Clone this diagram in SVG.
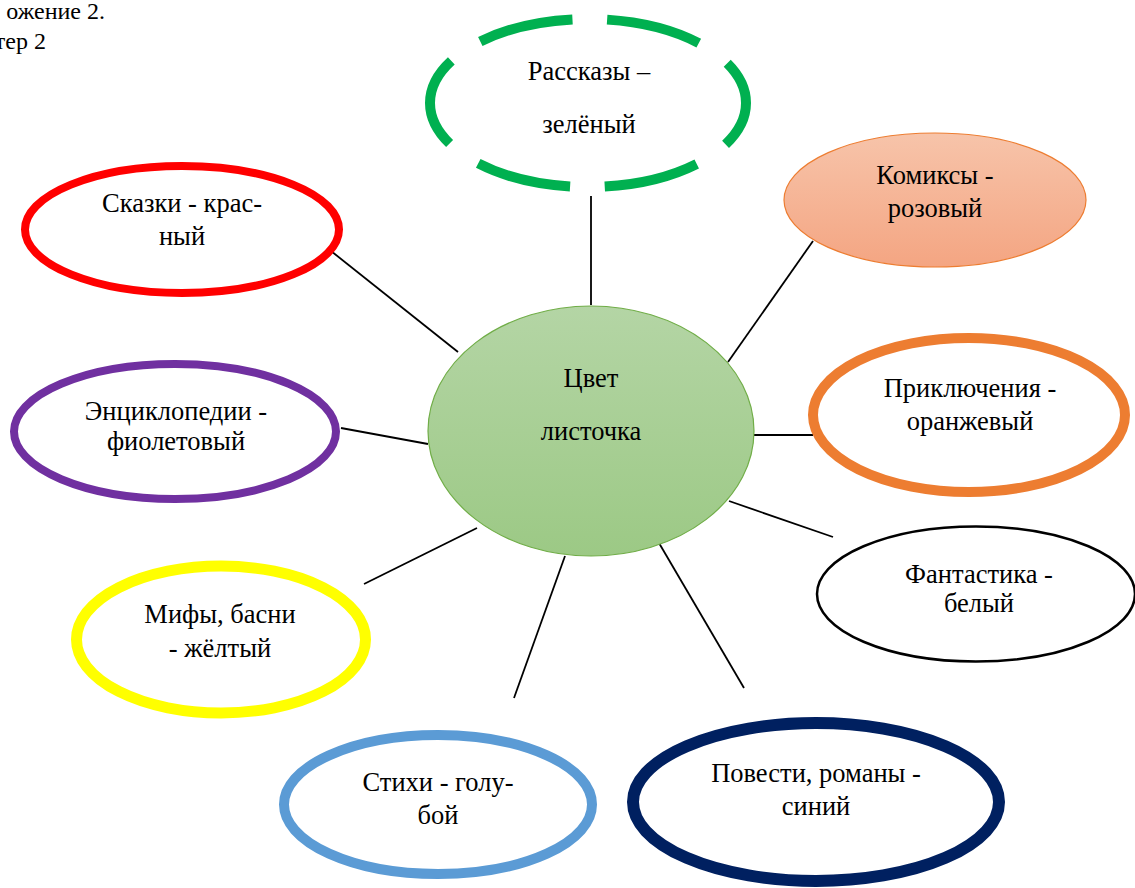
<svg xmlns="http://www.w3.org/2000/svg" width="1135" height="888" viewBox="0 0 1135 888">
<defs>
<linearGradient id="gCenter" x1="0" y1="0" x2="0" y2="1">
<stop offset="0" stop-color="#b4d5a5"/>
<stop offset="1" stop-color="#9cc985"/>
</linearGradient>
<linearGradient id="gPink" x1="0" y1="0" x2="0" y2="1">
<stop offset="0" stop-color="#f7c4aa"/>
<stop offset="1" stop-color="#f4a582"/>
</linearGradient>
</defs>
<style>
text{font-family:"Liberation Serif","Times New Roman","DejaVu Serif",serif;font-size:26.5px;fill:#000;text-anchor:middle}
.hdr{font-size:24px;text-anchor:end}
.ring{fill:#fff}
.conn line{stroke:#000;stroke-width:1.8}
</style>
<text class="hdr" x="105" y="19">ожение 2.</text>
<text class="hdr" x="46" y="49">тер 2</text>
<g class="conn" id="connectors">
<line x1="591" y1="196" x2="591" y2="305"/>
<line x1="331" y1="251" x2="458" y2="352"/>
<line x1="813" y1="241" x2="728" y2="362"/>
<line x1="754" y1="435" x2="813" y2="435"/>
<line x1="341" y1="428" x2="428" y2="444"/>
<line x1="729" y1="501" x2="833" y2="537"/>
<line x1="364" y1="584" x2="477" y2="528"/>
<line x1="565" y1="556" x2="514" y2="698"/>
<line x1="659" y1="543" x2="744" y2="688"/>
</g>
<g id="center">
<ellipse cx="591" cy="431" rx="163" ry="125" fill="url(#gCenter)" stroke="#70ad47" stroke-width="1.2"/>
<text x="591" y="387">Цвет</text>
<text x="591" y="440">листочка</text>
</g>
<g id="rasskazy">
<ellipse cx="588" cy="103" rx="158" ry="84" fill="none" stroke="#00b050" stroke-width="10" stroke-dasharray="95 35" stroke-dashoffset="47.5"/>
<text x="589" y="80">Рассказы –</text>
<text x="589" y="133">зелёный</text>
</g>
<g id="skazki">
<ellipse class="ring" cx="182" cy="229.5" rx="157" ry="63.5" stroke="#ff0000" stroke-width="8"/>
<text x="182" y="212">Сказки - крас-</text>
<text x="182" y="245">ный</text>
</g>
<g id="komiksy">
<ellipse cx="935" cy="200" rx="151" ry="67" fill="url(#gPink)" stroke="#ed7d31" stroke-width="1.2"/>
<text x="935" y="184">Комиксы -</text>
<text x="935" y="217">розовый</text>
</g>
<g id="encyclopedia">
<ellipse class="ring" cx="175" cy="431.5" rx="161" ry="67.5" stroke="#7030a0" stroke-width="8"/>
<text x="176" y="420">Энциклопедии -</text>
<text x="176" y="450">фиолетовый</text>
</g>
<g id="adventures">
<ellipse class="ring" cx="969" cy="415" rx="156" ry="77" stroke="#ed7d31" stroke-width="10"/>
<text x="970" y="397">Приключения -</text>
<text x="970" y="430">оранжевый</text>
</g>
<g id="fantasy">
<ellipse class="ring" cx="976" cy="594" rx="159" ry="67.5" stroke="#000" stroke-width="2.5"/>
<text x="979" y="583">Фантастика -</text>
<text x="979" y="612">белый</text>
</g>
<g id="myths">
<ellipse class="ring" cx="221" cy="639.5" rx="144.5" ry="73.5" stroke="#ffff00" stroke-width="11"/>
<text x="220" y="623">Мифы, басни</text>
<text x="220" y="657">- жёлтый</text>
</g>
<g id="poems">
<ellipse class="ring" cx="438" cy="804.5" rx="154" ry="69.5" stroke="#5b9bd5" stroke-width="10"/>
<text x="438" y="791">Стихи - голу-</text>
<text x="438" y="824">бой</text>
</g>
<g id="novels">
<ellipse class="ring" cx="816" cy="802" rx="183" ry="79" stroke="#002060" stroke-width="12"/>
<text x="816" y="782">Повести, романы -</text>
<text x="816" y="815">синий</text>
</g>
</svg>
